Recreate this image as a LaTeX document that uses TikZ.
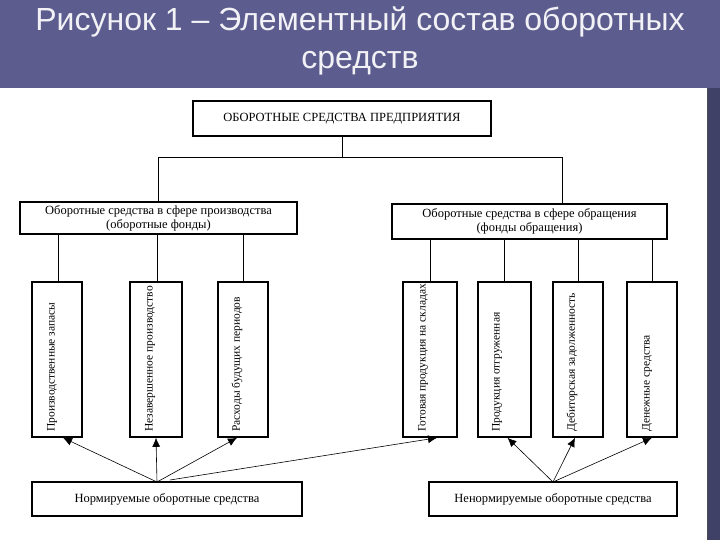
\documentclass[tikz,border=0pt]{standalone}
\usepackage{fontspec}
\setmainfont{Liberation Serif}
\newfontfamily\titlefont{Liberation Sans}
\usetikzlibrary{arrows.meta,calc}
\definecolor{slide}{RGB}{92,93,142}
\definecolor{slidedark}{RGB}{64,65,102}
\tikzset{
  box/.style={draw=black,line width=1.6pt,inner sep=0pt,font=\fontsize{12.5}{14}\selectfont,align=center},
  tallbox/.style={draw=black,line width=1.6pt,minimum height=155pt,inner sep=0pt},
  vtext/.style={rotate=90,anchor=west,inner sep=0pt,font=\fontsize{11.5}{12}\selectfont},
  link/.style={line width=0.8pt},
  arr/.style={line width=0.6pt,-{Latex[length=9pt,width=8pt]}}
}
\begin{document}
\begin{tikzpicture}[x=1pt,y=-1pt]
\useasboundingbox (0,0) rectangle (720,540);
% slide background
\fill[slide] (0,0) rectangle (720,540);
\fill[slidedark] (707,88) rectangle (720,540);
\fill[white] (0,88) rectangle (707,540);
\draw[black!70,line width=0.8pt] (707,88) -- (707,540);
% title
\node[text=white!92!slide,font=\titlefont\fontsize{32}{38}\selectfont,align=center,anchor=north] (title) at (360,3)
  {Рисунок 1 – Элементный состав оборотных\\средств};
% top box
\node[box,minimum width=298pt,minimum height=35pt] (top) at (342,118.5) {ОБОРОТНЫЕ СРЕДСТВА ПРЕДПРИЯТИЯ};
% middle boxes
\node[box,minimum width=277pt,minimum height=32pt] (lm) at (158.5,218) {Оборотные средства в сфере производства\\(оборотные фонды)};
\node[box,minimum width=275pt,minimum height=35pt] (rm) at (529.5,221.5) {Оборотные средства в сфере обращения\\(фонды обращения)};
% tall boxes
\node[tallbox,minimum width=50pt] (p1) at (57,359.5) {};
\node[tallbox,minimum width=52pt] (p2) at (156,359.5) {};
\node[tallbox,minimum width=50pt] (p3) at (243,359.5) {};
\node[tallbox,minimum width=54pt] (p4) at (430,359.5) {};
\node[tallbox,minimum width=53pt] (p5) at (504.5,359.5) {};
\node[tallbox,minimum width=50pt] (p6) at (578,359.5) {};
\node[tallbox,minimum width=50pt] (p7) at (652,359.5) {};
\node[vtext] (t1) at (52,432) {Производственные запасы};
\node[vtext] (t2) at (150,432) {Незавершенное производство};
\node[vtext] (t3) at (237,432) {Расходы будущих периодов};
\node[vtext] (t4) at (423,432) {Готовая продукция на складах};
\node[vtext] (t5) at (497,432) {Продукция отгруженная};
\node[vtext] (t6) at (572,432) {Дебиторская задолженность};
\node[vtext] (t7) at (647,432) {Денежные средства};
% bottom boxes
\node[box,minimum width=270pt,minimum height=34pt] (nb) at (167,499) {Нормируемые оборотные средства};
\node[box,minimum width=248pt,minimum height=34pt] (nn) at (553,499) {Ненормируемые оборотные средства};
% tree connectors
\coordinate (hl) at (158,157);
\coordinate (hr) at (562,157);
\draw[link] (top.south) -- (top.south |- hl);
\draw[link] (hl) -- (hr);
\draw[link] (hl) -- (hl |- lm.north);
\draw[link] (hr) -- (hr |- rm.north);
\foreach \p/\dx in {p1/1,p2/1,p3/0}{
  \draw[link] ($(\p.north)+(\dx,0)$) -- ($(\p.north |- lm.south)+(\dx,0)$);
}
\foreach \p in {p4,p5,p6,p7}{
  \draw[link] (\p.north) -- (\p.north |- rm.south);
}
% arrows
\coordinate (ls) at (157,482);
\coordinate (ls2) at (170,480);
\coordinate (rs) at (553,482);
\draw[arr] (ls) -- ($(p1.south)+(6,0)$);
\draw[arr] (ls) -- (p2.south);
\draw[arr] (ls) -- ($(p3.south)+(-6,0)$);
\draw[arr] (ls2) -- ($(p4.south)+(7,0)$);
\draw[arr] (rs) -- ($(p5.south)+(3,0)$);
\draw[arr] (rs) -- ($(p6.south)+(-3,0)$);
\draw[arr] (rs) -- (p7.south);
\end{tikzpicture}
\end{document}
